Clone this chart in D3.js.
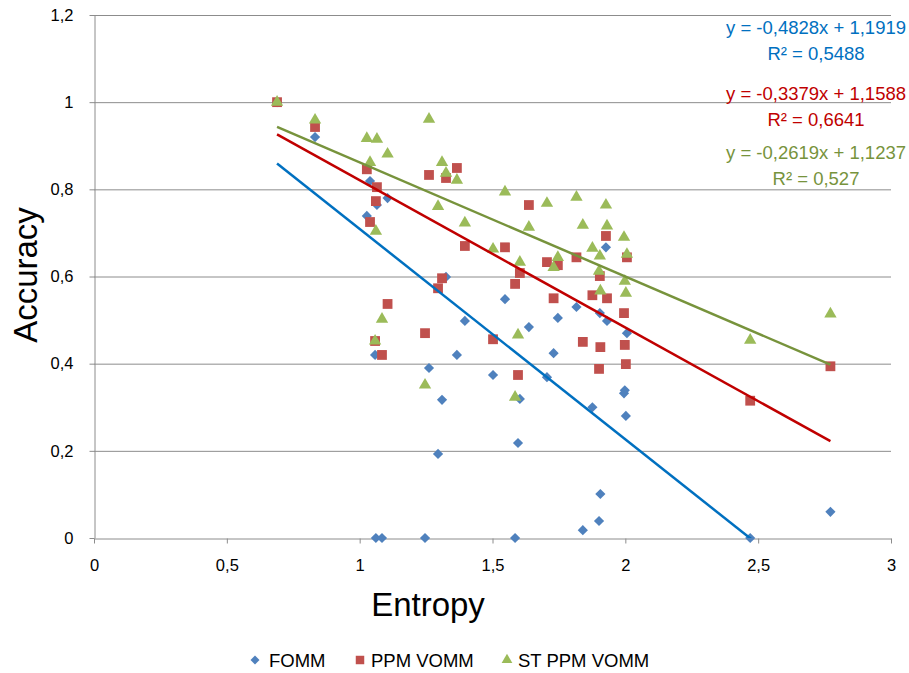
<!DOCTYPE html>
<html>
<head>
<meta charset="utf-8">
<script src="https://cdn.jsdelivr.net/npm/d3@7"></script>
<style>
  body { margin: 0; background: #fff; }
  text { font-family: "Liberation Sans", Arial, sans-serif; }
</style>
</head>
<body>
<svg id="chart" width="909" height="673"></svg>
<script>
// entropy of each data set (shared by all three models)
var entropy = [0.689, 0.832, 1.027, 1.039, 1.058, 1.065, 1.061, 1.084, 1.105, 1.246,
  1.261, 1.295, 1.310, 1.325, 1.366, 1.396, 1.502, 1.547, 1.585, 1.596,
  1.603, 1.637, 1.705, 1.730, 1.746, 1.816, 1.840, 1.876, 1.904, 1.906,
  1.901, 1.927, 1.931, 1.995, 1.998, 2.002, 2.006, 2.470, 2.772];
var fomm = [1.0, 0.920, 0.739, 0.819, 0.420, 0.764, 0.0, 0.0, 0.780, 0.0,
  0.390, 0.193, 0.317, 0.599, 0.420, 0.498, 0.374, 0.548, 0.0, 0.218,
  0.319, 0.484, 0.369, 0.424, 0.505, 0.530, 0.018, 0.300, 0.516, 0.101,
  0.039, 0.667, 0.498, 0.332, 0.339, 0.280, 0.470, 0.0, 0.060];
var ppmVomm = [1.0, 0.943, 0.846, 0.725, 0.452, 0.805, 0.773, 0.420, 0.537, 0.470,
  0.833, 0.573, 0.596, 0.826, 0.849, 0.670, 0.456, 0.667, 0.583, 0.374,
  0.608, 0.764, 0.633, 0.550, 0.626, 0.644, 0.450, 0.557, 0.601, 0.438,
  0.388, 0.693, 0.550, 0.516, 0.443, 0.399, 0.644, 0.315, 0.394];
var stPpmVomm = [1.0, 0.959, 0.917, 0.862, 0.452, 0.915, 0.704, 0.502, 0.881, 0.351,
  0.961, 0.761, 0.862, 0.837, 0.821, 0.723, 0.663, 0.794, 0.323, 0.466,
  0.633, 0.713, 0.768, 0.621, 0.644, 0.782, 0.718, 0.665, 0.647, 0.567,
  0.612, 0.764, 0.716, 0.690, 0.589, 0.562, 0.651, 0.454, 0.514];

var seriesNames = ["FOMM", "PPM VOMM", "ST PPM VOMM"];
var slopes = [-0.4828, -0.3379, -0.2619];
var intercepts = [1.1919, 1.1588, 1.1237];
var rSquared = ["0,5488", "0,6641", "0,527"];
var xTicks = [0, 0.5, 1, 1.5, 2, 2.5, 3];
var yTicks = [0, 0.2, 0.4, 0.6, 0.8, 1, 1.2];

var markerColors = ["#4F81BD", "#C0504D", "#9BBB59"];
var lineColors = ["#0070C0", "#C00000", "#77933C"];
// diamond = square turned 45 degrees, like the spreadsheet marker
var shapes = [d3.symbolSquare, d3.symbolSquare, d3.symbolTriangle];
var turns = [45, 0, 0];
var sizes = [52, 96, 66];

var svg = d3.select("#chart");
var pLeft = 94, pRight = 891, pTop = 15, pBottom = 538;

var x = d3.scaleLinear().domain([0, 3]).range([pLeft, pRight]);
var y = d3.scaleLinear().domain([0, 1.2]).range([pBottom, pTop]);

var comma = d3.formatLocale({decimal: ",", thousands: ".", grouping: [3], currency: ["", ""], minus: "-"});
var fmt = comma.format(".1~f");

// gridlines
svg.append("g").selectAll("line").data(yTicks.filter(function(d){ return d > 0; })).join("line")
  .attr("x1", pLeft).attr("x2", pRight)
  .attr("y1", function(d){ return y(d) + 0.5; }).attr("y2", function(d){ return y(d) + 0.5; })
  .attr("stroke", "#8c8c8c").attr("stroke-width", 1);

var xAxis = svg.append("g").attr("transform", "translate(0," + (pBottom + 0.5) + ")")
  .call(d3.axisBottom(x).tickValues(xTicks).tickSize(5).tickSizeOuter(0).tickFormat(fmt));
var yAxis = svg.append("g").attr("transform", "translate(" + (pLeft + 0.5) + ",0)")
  .call(d3.axisLeft(y).tickValues(yTicks).tickSize(5).tickSizeOuter(0).tickFormat(fmt));

[xAxis, yAxis].forEach(function(a){
  a.select(".domain").attr("stroke", "#8c8c8c");
  a.selectAll(".tick line").attr("stroke", "#8c8c8c");
  a.selectAll(".tick text").attr("fill", "#000").style("font-size", "16.5px")
    .style("font-family", "'Liberation Sans', Arial, sans-serif");
});
xAxis.selectAll(".tick text").attr("y", 0).attr("dy", "1.95em");
yAxis.selectAll(".tick text").attr("x", -21);

// axis titles
svg.append("text").attr("x", 428).attr("y", 616).attr("text-anchor", "middle")
  .style("font-size", "33px").text("Entropy");
svg.append("text").attr("transform", "translate(37,275) rotate(-90)").attr("text-anchor", "middle")
  .style("font-size", "33px").text("Accuracy");

// markers
var allSeries = [fomm, ppmVomm, stPpmVomm];
allSeries.forEach(function(vals, i){
  svg.append("g").selectAll("path").data(vals).join("path")
    .attr("d", d3.symbol().type(shapes[i]).size(sizes[i]))
    .attr("transform", function(d, j){
      return "translate(" + x(entropy[j]) + "," + y(d) + ") rotate(" + turns[i] + ")";
    })
    .attr("fill", markerColors[i]);
});

// trend lines
svg.append("clipPath").attr("id", "plot").append("rect")
  .attr("x", pLeft).attr("y", pTop).attr("width", pRight - pLeft).attr("height", pBottom - pTop);
var xMin = d3.min(entropy), xMax = d3.max(entropy);
var trend = svg.append("g").attr("clip-path", "url(#plot)");
slopes.forEach(function(s, i){
  trend.append("line")
    .attr("x1", x(xMin)).attr("y1", y(s * xMin + intercepts[i]))
    .attr("x2", x(xMax)).attr("y2", y(s * xMax + intercepts[i]))
    .attr("stroke", lineColors[i]).attr("stroke-width", 2.5);
});

// equations
var eqY = [34, 100, 159];
slopes.forEach(function(s, i){
  var g = svg.append("g").attr("fill", lineColors[i]).style("font-size", "18.5px");
  g.append("text").attr("x", 816).attr("y", eqY[i]).attr("text-anchor", "middle")
    .text("y = " + comma.format(".4f")(s) + "x + " + comma.format(".4f")(intercepts[i]));
  g.append("text").attr("x", 816).attr("y", eqY[i] + 25.5).attr("text-anchor", "middle")
    .text("R\u00b2 = " + rSquared[i]);
});

// legend
var legX = [255, 360, 507];
var legText = [269, 371, 518];
var legSizes = [40, 72, 50];
seriesNames.forEach(function(n, i){
  svg.append("path").attr("d", d3.symbol().type(shapes[i]).size(legSizes[i]))
    .attr("transform", "translate(" + legX[i] + ",660) rotate(" + turns[i] + ")")
    .attr("fill", markerColors[i]);
  svg.append("text").attr("x", legText[i]).attr("y", 667).style("font-size", "18.5px")
    .attr("fill", "#000").text(n);
});
</script>
</body>
</html>
